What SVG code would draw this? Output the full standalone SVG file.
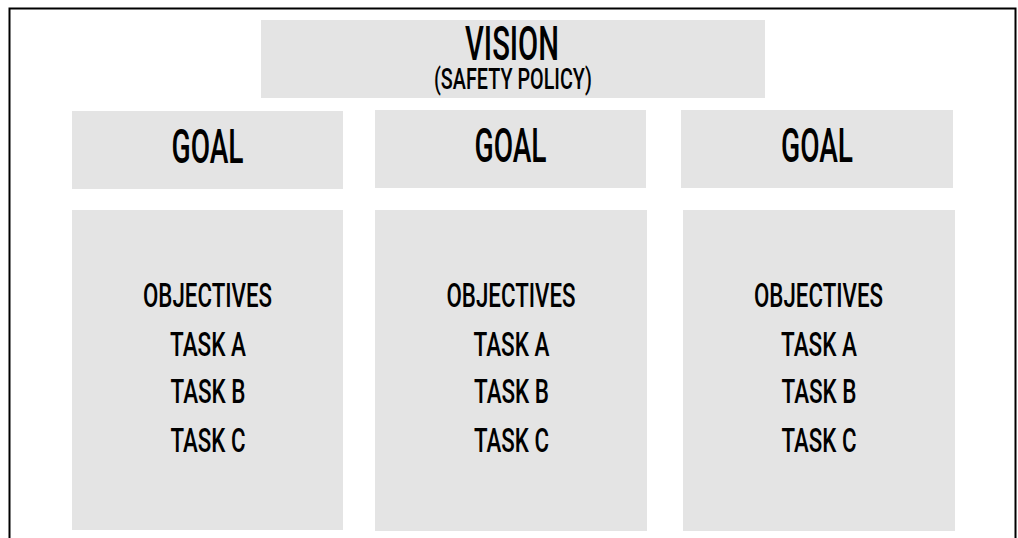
<svg xmlns="http://www.w3.org/2000/svg" width="1018" height="538" viewBox="0 0 1018 538">
  <style>
    .box { fill: #e4e4e4; }
    .t { font-family: Roboto, "Liberation Sans", Arial, sans-serif; font-weight: 500; fill: #000; text-anchor: middle; }
    .big { font-size: 49px; }
    .sub { font-size: 29px; }
    .item { font-size: 34px; }
  </style>
  <rect width="1018" height="538" fill="#fff"/>
  <!-- open frame running off the bottom edge -->
  <path d="M9.5,538 V8.5 H1015.5 V538" fill="none" stroke="#000" stroke-width="2"/>

  <g id="vision">
    <rect class="box" x="261" y="20" width="504" height="78"/>
    <text class="t big" x="512" y="60" textLength="94" lengthAdjust="spacingAndGlyphs">VISION</text>
    <text class="t sub" x="513" y="88.5" textLength="158" lengthAdjust="spacingAndGlyphs">(SAFETY POLICY)</text>
  </g>

  <g id="goal-1">
    <rect class="box" x="72" y="111" width="271" height="78"/>
    <text class="t big" x="207.5" y="163" textLength="72" lengthAdjust="spacingAndGlyphs">GOAL</text>
  </g>
  <g id="goal-2">
    <rect class="box" x="375" y="110" width="271" height="78"/>
    <text class="t big" x="510.5" y="162" textLength="72" lengthAdjust="spacingAndGlyphs">GOAL</text>
  </g>
  <g id="goal-3">
    <rect class="box" x="681" y="110" width="272" height="78"/>
    <text class="t big" x="817" y="162" textLength="72" lengthAdjust="spacingAndGlyphs">GOAL</text>
  </g>

  <g id="objectives-1">
    <rect class="box" x="72" y="210" width="271" height="320"/>
    <text class="t item" x="207.5" y="307" textLength="129" lengthAdjust="spacingAndGlyphs">OBJECTIVES</text>
    <text class="t item" x="208" y="356" textLength="76" lengthAdjust="spacingAndGlyphs">TASK A</text>
    <text class="t item" x="208" y="403" textLength="75" lengthAdjust="spacingAndGlyphs">TASK B</text>
    <text class="t item" x="208" y="451.5" textLength="75" lengthAdjust="spacingAndGlyphs">TASK C</text>
  </g>
  <g id="objectives-2">
    <rect class="box" x="375" y="210" width="272" height="321"/>
    <text class="t item" x="511" y="307" textLength="129" lengthAdjust="spacingAndGlyphs">OBJECTIVES</text>
    <text class="t item" x="511.5" y="356" textLength="76" lengthAdjust="spacingAndGlyphs">TASK A</text>
    <text class="t item" x="511.5" y="403" textLength="75" lengthAdjust="spacingAndGlyphs">TASK B</text>
    <text class="t item" x="511.5" y="451.5" textLength="75" lengthAdjust="spacingAndGlyphs">TASK C</text>
  </g>
  <g id="objectives-3">
    <rect class="box" x="683" y="210" width="272" height="321"/>
    <text class="t item" x="818.5" y="307" textLength="129" lengthAdjust="spacingAndGlyphs">OBJECTIVES</text>
    <text class="t item" x="819" y="356" textLength="76" lengthAdjust="spacingAndGlyphs">TASK A</text>
    <text class="t item" x="819" y="403" textLength="75" lengthAdjust="spacingAndGlyphs">TASK B</text>
    <text class="t item" x="819" y="451.5" textLength="75" lengthAdjust="spacingAndGlyphs">TASK C</text>
  </g>

  <g id="connectors"></g>
</svg>
